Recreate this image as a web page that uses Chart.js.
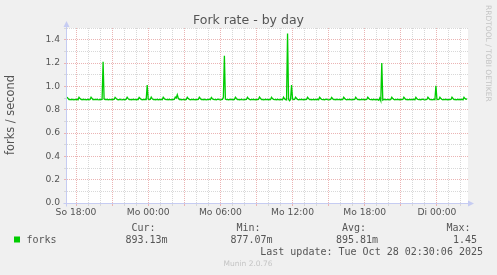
<!DOCTYPE html>
<html>
<head>
<meta charset="utf-8">
<script src="https://cdn.jsdelivr.net/npm/chart.js@4/dist/chart.umd.min.js"></script>
<style>
html,body{margin:0;padding:0;background:#f0f0f0;}
canvas{display:block;}
</style>
</head>
<body>
<canvas id="c" width="497" height="275" style="width:497px;height:275px"></canvas>
<script>
// ---- data ----
const chartTitle = 'Fork rate - by day';
const yAxisTitle = 'forks / second';
const seriesName = 'forks';
const startHour = 17.25;      // So 17:15, hours since So 00:00
const stepMinutes = 5;
const endHour = 50.5833;
// fork rate, one value per 5-minute step (rows = one hour each)
const forks = [
 0.908,0.897,0.886,0.888,0.885,0.889,0.887,0.884,0.888,0.886,0.889,0.885,
 0.906,0.895,0.887,0.885,0.889,0.886,0.888,0.885,0.887,0.889,0.884,0.887,
 0.907,0.896,0.885,0.888,0.886,0.887,0.889,0.886,0.884,0.888,0.886,0.888,
 1.210,0.893,0.886,0.887,0.889,0.885,0.887,0.888,0.885,0.889,0.886,0.887,
 0.906,0.897,0.888,0.885,0.887,0.889,0.886,0.884,0.888,0.887,0.885,0.889,
 0.907,0.895,0.886,0.888,0.885,0.887,0.889,0.886,0.888,0.885,0.887,0.886,
 0.905,0.896,0.887,0.885,0.888,0.886,0.889,0.887,1.012,0.890,0.886,0.888,
 0.907,0.894,0.886,0.888,0.885,0.887,0.889,0.884,0.887,0.886,0.888,0.885,
 0.906,0.896,0.888,0.886,0.887,0.885,0.889,0.887,0.884,0.888,0.886,0.887,
 0.908,0.900,0.928,0.898,0.887,0.889,0.885,0.887,0.888,0.886,0.884,0.888,
 0.906,0.895,0.887,0.885,0.888,0.886,0.889,0.887,0.885,0.888,0.886,0.887,
 0.907,0.896,0.886,0.888,0.885,0.889,0.887,0.884,0.888,0.886,0.889,0.885,
 0.905,0.894,0.888,0.886,0.887,0.885,0.888,0.889,0.886,0.884,0.887,0.888,
 0.906,1.262,0.891,0.886,0.888,0.885,0.887,0.889,0.886,0.888,0.885,0.887,
 0.907,0.896,0.886,0.888,0.885,0.887,0.889,0.886,0.884,0.888,0.886,0.887,
 0.906,0.895,0.887,0.885,0.888,0.886,0.889,0.887,0.885,0.888,0.886,0.888,
 0.908,0.896,0.886,0.888,0.884,0.887,0.889,0.886,0.888,0.885,0.887,0.886,
 0.906,0.895,0.888,0.886,0.887,0.885,0.889,0.887,0.884,0.888,0.886,0.885,
 0.907,0.893,0.886,0.884,1.452,0.889,0.877,0.888,1.010,0.890,0.886,0.887,
 0.907,0.896,0.887,0.885,0.888,0.886,0.889,0.887,0.885,0.888,0.886,0.888,
 0.906,0.895,0.886,0.888,0.885,0.887,0.889,0.884,0.888,0.886,0.889,0.885,
 0.907,0.896,0.888,0.886,0.887,0.885,0.888,0.889,0.886,0.884,0.887,0.888,
 0.905,0.894,0.886,0.888,0.885,0.889,0.887,0.886,0.888,0.885,0.887,0.886,
 0.907,0.896,0.887,0.885,0.888,0.886,0.889,0.887,0.884,0.888,0.886,0.887,
 0.906,0.895,0.886,0.888,0.885,0.887,0.889,0.886,0.888,0.885,0.887,0.888,
 0.907,0.896,0.888,0.886,0.887,0.885,0.889,0.887,0.885,0.888,0.886,0.881,
 0.900,0.877,1.200,0.882,0.887,0.889,0.885,0.887,0.888,0.886,0.884,0.888,
 0.906,0.895,0.887,0.885,0.888,0.886,0.889,0.887,0.885,0.888,0.886,0.887,
 0.907,0.896,0.886,0.888,0.885,0.887,0.889,0.884,0.888,0.886,0.889,0.885,
 0.906,0.894,0.888,0.886,0.887,0.885,0.888,0.889,0.886,0.884,0.887,0.888,
 0.907,0.896,0.886,0.888,0.885,0.887,0.889,0.886,1.005,0.889,0.886,0.887,
 0.906,0.895,0.887,0.885,0.888,0.886,0.889,0.887,0.885,0.888,0.886,0.888,
 0.907,0.896,0.886,0.888,0.885,0.887,0.889,0.884,0.888,0.886,0.889,0.885,
 0.906,0.895,0.889,0.893
];
const xTickHours  = [18, 24, 30, 36, 42, 48];
const xTickLabels = ['So 18:00', 'Mo 00:00', 'Mo 06:00', 'Mo 12:00', 'Mo 18:00', 'Di 00:00'];
const yMax = 1.5;
const statLabels = ['Cur:', 'Min:', 'Avg:', 'Max:'];
const statValues = ['893.13m', '877.07m', '895.81m', '1.45'];
const lastUpdate = 'Last update: Tue Oct 28 02:30:06 2025';
const footer = 'Munin 2.0.76';
const sideText = 'RRDTOOL / TOBI OETIKER';

// ---- build ----
const points = forks.map((v, i) => ({ x: startHour + i * stepMinutes / 60, y: v }));
const hourGrid = [];
for (let h = Math.ceil(startHour); h <= endHour; h++) hourGrid.push(h);
const yGrid = [];
for (let k = 0; k <= Math.round(yMax * 10); k++) yGrid.push(k / 10);

const MAJOR = '#ebb4b4';
const MINOR = '#d8d8d8';
const AXIS = '#c6ccf2';
const TEXT = '#555555';
const SANS = '"DejaVu Sans", sans-serif';
const MONO = '"DejaVu Sans Mono", monospace';

const xColor = c => {
  const v = c.tick ? c.tick.value : 0;
  return ((v - 18) % 3 === 0) ? MAJOR : MINOR;
};
const yColor = c => {
  const v = c.tick ? Math.round(c.tick.value * 10) : 0;
  if (v === 0) return 'rgba(0,0,0,0)';
  return (v % 2 === 0) ? MAJOR : MINOR;
};

const decor = {
  id: 'decor',
  beforeDraw(chart) {
    const { ctx, chartArea: a } = chart;
    ctx.save();
    ctx.fillStyle = '#f0f0f0';
    ctx.fillRect(0, 0, chart.width, chart.height);
    ctx.fillStyle = '#ffffff';
    ctx.fillRect(a.left, a.top, a.right - a.left, a.bottom - a.top);
    ctx.restore();
  },
  afterDraw(chart) {
    const { ctx, chartArea: a } = chart;
    ctx.save();
    // axes
    ctx.strokeStyle = AXIS; ctx.fillStyle = AXIS; ctx.lineWidth = 1;
    const ax = a.left - 0.5, ay = a.bottom + 0.5;
    ctx.beginPath();
    ctx.moveTo(ax, ay + 3); ctx.lineTo(ax, a.top - 4);
    ctx.moveTo(ax - 3, ay); ctx.lineTo(a.right + 2, ay);
    ctx.stroke();
    ctx.beginPath();
    ctx.moveTo(ax, a.top - 7); ctx.lineTo(ax - 3, a.top - 1); ctx.lineTo(ax + 3, a.top - 1); ctx.closePath(); ctx.fill();
    ctx.beginPath();
    ctx.moveTo(a.right + 6, ay); ctx.lineTo(a.right, ay - 3); ctx.lineTo(a.right, ay + 3); ctx.closePath(); ctx.fill();

    // title
    ctx.fillStyle = TEXT;
    ctx.font = '12.5px ' + SANS;
    ctx.textAlign = 'center'; ctx.textBaseline = 'alphabetic';
    ctx.fillText(chartTitle, 248.5, 24);

    // y title
    ctx.save();
    ctx.translate(14, 115);
    ctx.rotate(-Math.PI / 2);
    ctx.font = '11.4px ' + SANS;
    ctx.fillText(yAxisTitle, 0, 0);
    ctx.restore();

    // side text
    ctx.save();
    ctx.translate(485.5, 5);
    ctx.rotate(Math.PI / 2);
    ctx.fillStyle = '#c4c4c4';
    ctx.font = '7.5px ' + SANS;
    ctx.textAlign = 'left';
    ctx.fillText(sideText, 0, 0);
    ctx.restore();

    // legend
    ctx.fillStyle = '#00cc00';
    ctx.fillRect(14, 236.5, 6, 6);
    ctx.fillStyle = TEXT;
    ctx.font = '10px ' + MONO;
    ctx.textAlign = 'left'; ctx.textBaseline = 'middle';
    ctx.fillText(seriesName, 26.5, 240);
    const headX = [131.5, 236.5, 342, 446.5];
    const valX = [125.5, 230.5, 336, 453];
    for (let i = 0; i < statLabels.length; i++) {
      ctx.fillText(statLabels[i], headX[i], 228.5);
      ctx.fillText(statValues[i], valX[i], 240);
    }
    ctx.textAlign = 'right';
    ctx.fillText(lastUpdate, 483, 252);

    // footer
    ctx.fillStyle = '#c4c4c4';
    ctx.font = '7.5px ' + SANS;
    ctx.textAlign = 'center';
    ctx.fillText(footer, 248, 264.5);
    ctx.restore();
  }
};

new Chart(document.getElementById('c'), {
  type: 'line',
  data: {
    datasets: [{
      label: seriesName,
      data: points,
      borderColor: '#00cc00',
      borderWidth: 1.3,
      pointRadius: 0,
      tension: 0,
      fill: false
    }]
  },
  options: {
    responsive: false,
    animation: false,
    devicePixelRatio: 1,
    layout: { padding: { top: 28, right: 29, bottom: 52, left: 0 } },
    plugins: { legend: { display: false }, tooltip: { enabled: false }, title: { display: false } },
    scales: {
      x: {
        type: 'linear',
        min: startHour,
        max: endHour,
        afterBuildTicks: s => { s.ticks = hourGrid.map(v => ({ value: v })); },
        afterFit: s => { s.height = 20; },
        ticks: {
          autoSkip: false, maxRotation: 0, minRotation: 0, padding: 1,
          color: TEXT, font: { family: SANS, size: 9.2 },
          callback: v => { const i = xTickHours.indexOf(v); return i >= 0 ? xTickLabels[i] : ''; }
        },
        grid: { color: xColor, tickColor: xColor, lineWidth: 1, tickLength: 3, drawOnChartArea: true },
        border: { display: false, dash: [1, 1] }
      },
      y: {
        min: 0,
        max: yMax,
        afterBuildTicks: s => { s.ticks = yGrid.map(v => ({ value: v })); },
        afterFit: s => { s.width = 67; },
        ticks: {
          autoSkip: false, padding: 4,
          color: TEXT, font: { family: SANS, size: 9.2 },
          callback: v => (Math.round(v * 10) % 2 === 0) ? v.toFixed(1) : ''
        },
        grid: { color: yColor, tickColor: c => { const v = c.tick ? Math.round(c.tick.value * 10) : 0; return v % 2 === 0 ? MAJOR : MINOR; }, lineWidth: 1, tickLength: 3 },
        border: { display: false, dash: [1, 1] }
      }
    }
  },
  plugins: [decor]
});
</script>
</body>
</html>
